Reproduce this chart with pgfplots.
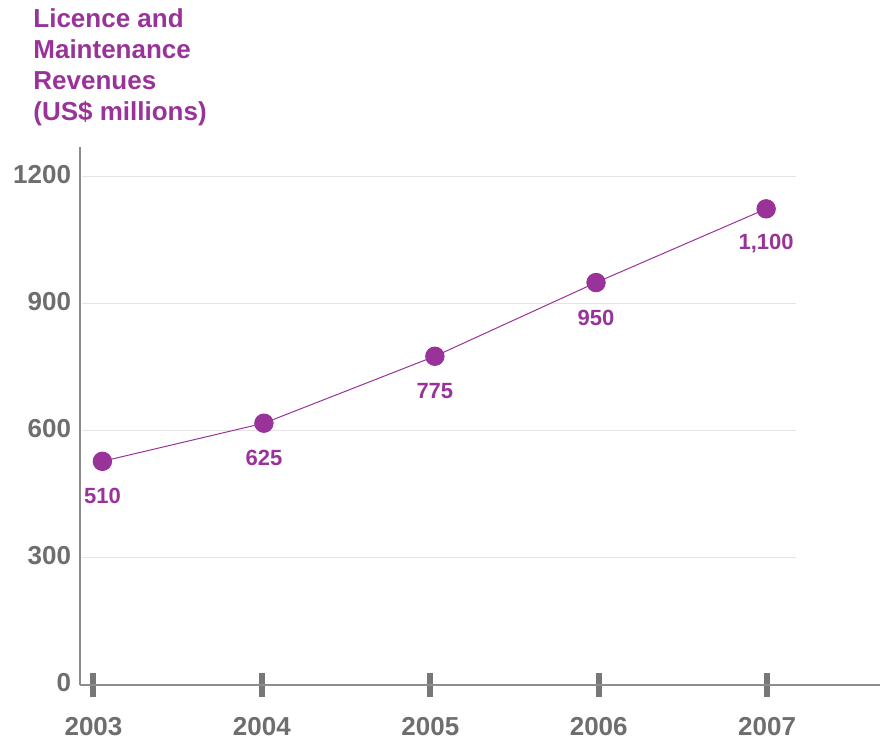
\documentclass[border=0pt]{standalone}
\usepackage{fontspec}
\setmainfont{Liberation Sans}
\usepackage{pgfplots}
\pgfplotsset{compat=1.18}
\definecolor{pur}{HTML}{993399}
\definecolor{txtgray}{HTML}{6E6E6E}
\definecolor{axgray}{HTML}{8C8C8C}
\definecolor{tickgray}{HTML}{777777}
\definecolor{gridgray}{HTML}{E4E4E4}
\begin{document}
\begin{tikzpicture}
\useasboundingbox (-40pt,-26.5pt) rectangle (401pt,342.5pt);
\begin{axis}[
  at={(0,0)}, anchor=south west, scale only axis,
  width=400pt, height=269pt,
  xmin=2002.92, xmax=2007.67, ymin=0, ymax=1270,
  axis lines=left,
  axis line style={-, draw=axgray, line width=1pt},
  xtick={2003,2004,2005,2006,2007},
  ytick={0,300,600,900,1200},
  /pgf/number format/1000 sep={},
  /pgf/number format/assume math mode=true,
  major tick length=12pt, tick align=center,
  xtick style={draw=tickgray, line width=3pt},
  ytick style={draw=none},
  ticklabel style={font=\fontsize{13}{15}\selectfont\bfseries, text=txtgray},
  xticklabel style={anchor=base, yshift=-19pt},
  yticklabel style={anchor=east, xshift=5pt, yshift=1pt},
  clip=false,
]
\draw[gridgray, line width=0.5pt] (axis cs:2002.93,300) -- (axis cs:2007.17,300);
\draw[gridgray, line width=0.5pt] (axis cs:2002.93,600) -- (axis cs:2007.17,600);
\draw[gridgray, line width=0.5pt] (axis cs:2002.93,900) -- (axis cs:2007.17,900);
\draw[gridgray, line width=0.5pt] (axis cs:2002.93,1200) -- (axis cs:2007.17,1200);
\addplot[pur, line width=0.5pt, mark=*, mark size=4.6pt,
  mark options={fill=pur, draw=pur},
  nodes near coords, point meta=explicit symbolic,
  nodes near coords style={anchor=center, yshift=-17.5pt,
    font=\fontsize{11}{12}\selectfont\bfseries, text=pur}]
  table[x=x, y=y, meta=lbl] {
x y lbl
2003.053 528 510
2004.012 618 625
2005.027 776 775
2005.984 950 950
2006.994 1124 1,100
};
\end{axis}
\node[anchor=north west, inner sep=0pt, align=left, text=pur,
  font=\fontsize{13}{15.5}\selectfont\bfseries] at (-23.5pt,338.5pt)
  {Licence and\\Maintenance\\Revenues\\(US\$ millions)};
\end{tikzpicture}
\end{document}
